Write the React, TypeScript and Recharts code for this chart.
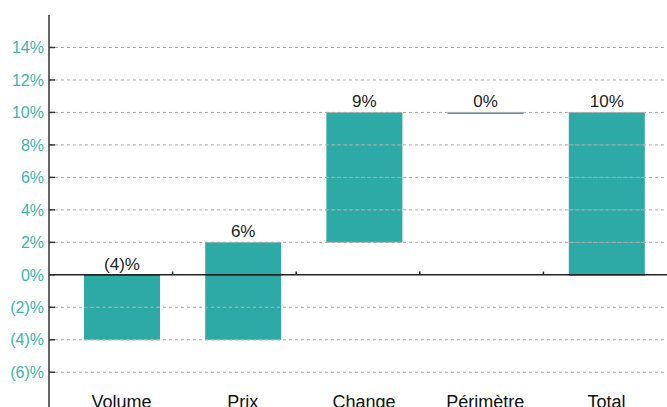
import * as React from "react";
import {
  Bar,
  ComposedChart,
  LabelList,
  ReferenceLine,
  XAxis,
  YAxis,
} from "recharts";

// Waterfall steps: each bar spans [low, high] in percentage points.
const CATEGORIES = ["Volume", "Prix", "Change", "Périmètre", "Total"];
const BAR_LOW = [-4, -4, 2, 9.9, 0];
const BAR_HIGH = [0, 2, 10, 10, 10];
const BAR_LABELS = ["(4)%", "6%", "9%", "0%", "10%"];
const Y_TICKS = [-6, -4, -2, 0, 2, 4, 6, 8, 10, 12, 14];

const TEAL = "#2eaaa6";
const TICK_TEAL = "#3bb5af";
const GRID = "#aaa";
const FONT = '"Liberation Sans", Arial, Helvetica, sans-serif';

const data = CATEGORIES.map((name, i) => ({
  name,
  slot: i,
  range: [BAR_LOW[i], BAR_HIGH[i]],
  label: BAR_LABELS[i],
}));

// Boundaries between categories on the numeric "slot" axis (slot i is centred on i).
const BOUNDARIES = CATEGORIES.slice(1).map((_, i) => i + 0.5);

function fmtPct(v: number): string {
  return v < 0 ? `(${String(-v)})%` : `${String(v)}%`;
}

function CategoryTick(props: { x?: number; y?: number; payload?: { value: string } }) {
  const { x = 0, y = 0, payload } = props;
  return (
    <text x={x} y={y} textAnchor="middle" fill="#111" fontSize={18} fontFamily={FONT}>
      {payload?.value}
    </text>
  );
}

// The reference draws its grid on top of the bars, so each bar repaints the
// grid lines (and the zero line) that cross it, using its own pixel scale.
function GridBar(props: {
  x?: number;
  y?: number;
  width?: number;
  height?: number;
  fill?: string;
  payload?: { range: number[] };
}) {
  const { x = 0, y = 0, width = 0, height = 0, fill, payload } = props;
  const [low, high] = payload?.range ?? [0, 0];
  const ppu = high > low ? height / (high - low) : 0;
  return (
    <g>
      <rect x={x} y={y} width={width} height={height} fill={fill} />
      {ppu > 0 &&
        Y_TICKS.filter((t) => t >= low && t <= high).map((t) => {
          const ty = y + (high - t) * ppu;
          return t === 0 ? (
            <line key={t} x1={x} x2={x + width} y1={ty} y2={ty} stroke="#222" strokeWidth={1.5} />
          ) : (
            <line
              key={t}
              x1={x}
              x2={x + width}
              y1={ty}
              y2={ty}
              stroke={GRID}
              strokeWidth={1}
              strokeDasharray="3 3"
            />
          );
        })}
    </g>
  );
}

export default function App() {
  return (
    <div style={{ position: "absolute", left: 0, top: 0, fontFamily: FONT }}>
      <ComposedChart
        width={667}
        height={410}
        data={data}
        margin={{ top: 15, right: 0, bottom: 1, left: 0 }}
      >
        <XAxis
          dataKey="name"
          interval={0}
          height={1}
          padding={{ left: 12, right: 0 }}
          axisLine={false}
          tickLine={false}
          tickSize={0}
          tickMargin={0}
          tick={<CategoryTick />}
        />
        <XAxis
          xAxisId="num"
          dataKey="slot"
          type="number"
          domain={[-0.5, CATEGORIES.length - 0.5]}
          allowDataOverflow
          hide
        />
        <YAxis
          width={49}
          domain={[-8.2, 16]}
          ticks={Y_TICKS}
          allowDataOverflow
          tickFormatter={fmtPct}
          axisLine={{ stroke: "#333", strokeWidth: 1.5 }}
          tickLine={{ stroke: "#333", strokeWidth: 1.5 }}
          tickSize={-6}
          tickMargin={11}
          tick={{ fill: TICK_TEAL, fontSize: 16, fontFamily: FONT }}
        />
        {Y_TICKS.filter((t) => t !== 0).map((t) => (
          <ReferenceLine key={t} y={t} stroke={GRID} strokeDasharray="3 3" strokeWidth={1} />
        ))}
        <ReferenceLine y={0} stroke="#222" strokeWidth={1.5} />
        {BOUNDARIES.map((b) => (
          <ReferenceLine
            key={`b${String(b)}`}
            xAxisId="num"
            segment={[
              { x: b, y: 0 },
              { x: b, y: 0.2 },
            ]}
            stroke="#222"
            strokeWidth={1.5}
          />
        ))}
        <Bar
          dataKey="range"
          fill={TEAL}
          barSize={76}
          shape={<GridBar />}
          isAnimationActive={false}
        >
          <LabelList
            dataKey="label"
            position="top"
            offset={5}
            fill="#222"
            fontSize={17}
            fontFamily={FONT}
          />
        </Bar>
      </ComposedChart>
    </div>
  );
}
